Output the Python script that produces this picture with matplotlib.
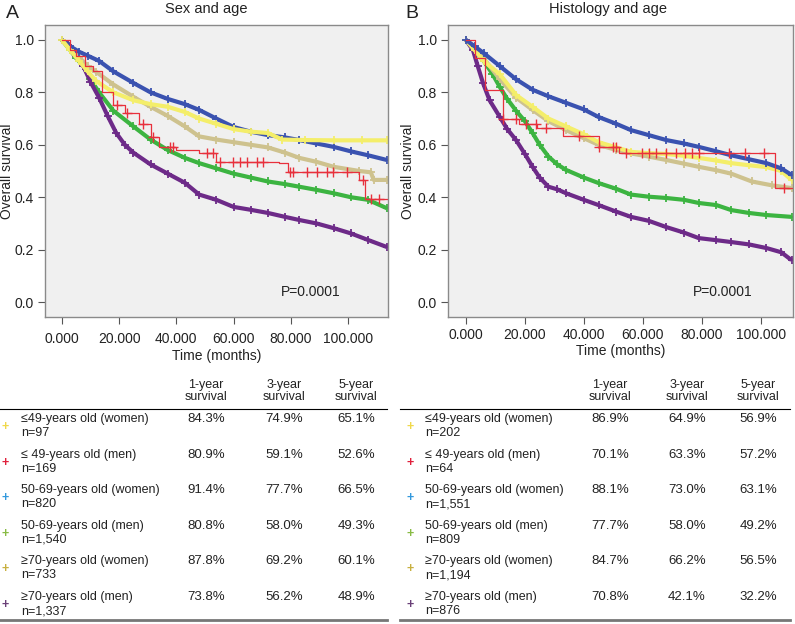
import numpy as np
import matplotlib
matplotlib.use("Agg")
import matplotlib.pyplot as plt

plt.rcParams['font.family'] = ['Liberation Sans', 'DejaVu Sans']

W, H = 795, 624

# ---- panel A: sex and age ----
a_blue_t = [0, 3, 6, 9, 13, 18, 25, 31, 37, 43, 48, 54, 60, 66, 72, 78, 83, 89, 95, 101, 107, 113.6]
a_blue_s = [1.0, 0.975, 0.955, 0.94, 0.92, 0.88, 0.836, 0.80, 0.775, 0.755, 0.733, 0.70, 0.668, 0.65, 0.637, 0.628, 0.618, 0.605, 0.592, 0.575, 0.56, 0.542]
a_yel_t = [0, 3, 6, 9, 12, 18, 25, 31, 37, 43, 48, 54, 60, 66, 72, 77, 85, 95, 105, 113.6]
a_yel_s = [1.0, 0.96, 0.92, 0.88, 0.843, 0.80, 0.77, 0.755, 0.745, 0.725, 0.70, 0.68, 0.66, 0.65, 0.645, 0.62, 0.618, 0.617, 0.617, 0.617]
a_tan_t = [0, 3, 6, 9, 12, 18, 25, 31, 37, 43, 48, 54, 60, 66, 72, 78, 83, 89, 95, 104, 108, 109, 113.6]
a_tan_s = [1.0, 0.97, 0.935, 0.90, 0.878, 0.83, 0.783, 0.745, 0.71, 0.67, 0.632, 0.62, 0.61, 0.60, 0.59, 0.57, 0.55, 0.535, 0.516, 0.50, 0.495, 0.466, 0.466]
a_grn_t = [0, 3, 5, 7.5, 10, 13, 18, 25, 31, 37, 43, 48, 54, 60, 66, 72, 78, 83, 89, 95, 101, 107, 113.6]
a_grn_s = [1.0, 0.96, 0.93, 0.90, 0.85, 0.80, 0.73, 0.67, 0.62, 0.58, 0.55, 0.53, 0.51, 0.49, 0.475, 0.46, 0.45, 0.44, 0.428, 0.415, 0.40, 0.39, 0.358]
a_pur_t = [0, 2, 5, 7.5, 10, 13, 16, 19, 22, 25, 31, 37, 43, 48, 54, 60, 66, 72, 78, 83, 89, 95, 101, 107, 113.6]
a_pur_s = [1.0, 0.98, 0.94, 0.90, 0.84, 0.78, 0.71, 0.645, 0.60, 0.57, 0.525, 0.49, 0.455, 0.41, 0.39, 0.363, 0.352, 0.34, 0.325, 0.313, 0.30, 0.282, 0.262, 0.237, 0.21]
a_red_t = [0, 3, 5, 8, 11, 14, 18, 22, 27, 31, 34, 40, 48, 54, 76, 79, 104, 106, 113.6]
a_red_s = [1.0, 0.96, 0.94, 0.90, 0.88, 0.80, 0.75, 0.72, 0.68, 0.63, 0.59, 0.58, 0.57, 0.535, 0.53, 0.497, 0.466, 0.393, 0.393]
a_red_cens = [19.1, 22.6, 28.4, 31.9, 37.8, 38.9, 50.6, 52.9, 55.2, 59.9, 62.2, 64.6, 68.1, 70.4,
              79.7, 80.9, 85.6, 89.1, 92.6, 94.9, 99.6, 105.4, 108, 111]

# ---- panel B: histology and age ----
b_blue_t = [0, 3, 6, 11.5, 17, 22.6, 28, 34, 40, 45, 51, 56, 62, 68, 74, 79, 85, 90, 96, 102, 107, 110.5]
b_blue_s = [1.0, 0.975, 0.95, 0.90, 0.85, 0.81, 0.785, 0.76, 0.735, 0.706, 0.68, 0.656, 0.637, 0.618, 0.605, 0.592, 0.575, 0.56, 0.545, 0.53, 0.51, 0.485]
b_yel_t = [0, 3, 6, 11.5, 17, 22.6, 28, 34, 40, 45, 51, 56, 62, 68, 74, 79, 85, 90, 96, 102, 107, 110.5]
b_yel_s = [1.0, 0.96, 0.92, 0.869, 0.79, 0.745, 0.70, 0.67, 0.64, 0.61, 0.59, 0.573, 0.568, 0.565, 0.558, 0.55, 0.54, 0.53, 0.522, 0.515, 0.5, 0.466]
b_tan_t = [0, 3, 6, 11.5, 17, 22.6, 28, 34, 40, 45, 51, 56, 62, 68, 74, 79, 85, 90, 97, 104, 110.5]
b_tan_s = [1.0, 0.965, 0.93, 0.85, 0.78, 0.733, 0.69, 0.656, 0.625, 0.60, 0.58, 0.567, 0.555, 0.542, 0.528, 0.516, 0.503, 0.49, 0.46, 0.445, 0.435]
b_grn_t = [0, 3, 6, 9, 11.5, 14, 17, 20, 22.6, 25, 28, 31, 34, 40, 45, 51, 56, 62, 68, 74, 79, 85, 90, 96, 102, 110.5]
b_grn_s = [1.0, 0.96, 0.92, 0.87, 0.82, 0.775, 0.73, 0.69, 0.645, 0.60, 0.555, 0.525, 0.504, 0.475, 0.454, 0.432, 0.41, 0.402, 0.397, 0.39, 0.378, 0.37, 0.351, 0.34, 0.332, 0.325]
b_pur_t = [0, 2.4, 4, 5.8, 8, 11.5, 14, 17, 20, 22.6, 25, 28, 31, 34, 40, 45, 51, 56, 62, 68, 74, 79, 85, 90, 96, 102, 107, 110.5]
b_pur_s = [1.0, 0.96, 0.90, 0.835, 0.77, 0.706, 0.66, 0.618, 0.565, 0.516, 0.475, 0.44, 0.43, 0.415, 0.39, 0.37, 0.345, 0.325, 0.31, 0.286, 0.265, 0.244, 0.236, 0.229, 0.22, 0.206, 0.19, 0.16]
b_red_t = [0, 3, 6.4, 12.5, 18, 24, 33, 45, 52, 105, 110.5]
b_red_s = [1.0, 0.93, 0.81, 0.70, 0.68, 0.665, 0.633, 0.592, 0.57, 0.435, 0.435]
b_red_cens = [12.6, 17.1, 20.5, 23.9, 27.3, 38.5, 45.3, 49.8, 50.9, 54.3, 59.9, 62.2, 64.4, 67.8,
              71.2, 74.5, 76.8, 79.0, 89.2, 94.8, 101.0, 108]

# ---- tables ----
groups = ["\u226449-years old (women)", "\u2264 49-years old (men)", "50-69-years old (women)",
          "50-69-years old (men)", "\u226570-years old (women)", "\u226570-years old (men)"]
a_n = ["97", "169", "820", "1,540", "733", "1,337"]
a_1y = ["84.3%", "80.9%", "91.4%", "80.8%", "87.8%", "73.8%"]
a_3y = ["74.9%", "59.1%", "77.7%", "58.0%", "69.2%", "56.2%"]
a_5y = ["65.1%", "52.6%", "66.5%", "49.3%", "60.1%", "48.9%"]
b_n = ["202", "64", "1,551", "809", "1,194", "876"]
b_1y = ["86.9%", "70.1%", "88.1%", "77.7%", "84.7%", "70.8%"]
b_3y = ["64.9%", "63.3%", "73.0%", "58.0%", "66.2%", "42.1%"]
b_5y = ["56.9%", "57.2%", "63.1%", "49.2%", "56.5%", "32.2%"]

c_yel, c_red, c_blue, c_grn, c_tan, c_pur = '#f4ee6a', '#e8303c', '#3a52b0', '#3cb441', '#cec28e', '#6d2a88'
key_cols = ['#f0d84a', '#e0203c', '#3399dd', '#88bb44', '#c8b040', '#6a4078']
txt_col = '#222222'


def fx(px):
    return px / W


def fy(py):
    return 1 - py / H


def step_at(t, s, x):
    i = np.searchsorted(t, x, side='right') - 1
    return np.asarray(s)[i]


def km_panel(rect, title, letter, curves, red, xlim, letter_x, title_x, xpad):
    ax = fig.add_axes(rect)
    ax.set_facecolor('#f0f0f0')
    for t, s, col in curves:
        ax.plot(t, s, color=col, lw=3.0, marker='+', ms=6, mew=1.3, solid_capstyle='butt')
    rt, rs, rc = red
    ax.plot(rt, rs, color=c_red, lw=0.9, drawstyle='steps-post')
    ax.plot(rc, step_at(rt, rs, rc), ls='none', marker='+', ms=7, mew=1.0, color=c_red)
    ax.set_xlim(*xlim)
    ax.set_ylim(-0.057, 1.057)
    ax.set_xticks([0, 20, 40, 60, 80, 100])
    ax.set_xticklabels(['%.3f' % v for v in [0, 20, 40, 60, 80, 100]])
    ax.set_yticks([0, 0.2, 0.4, 0.6, 0.8, 1.0])
    ax.set_yticklabels(['%.1f' % v for v in [0, 0.2, 0.4, 0.6, 0.8, 1.0]])
    ax.tick_params(labelsize=10, length=5, width=0.8, color='#555555', labelcolor=txt_col)
    ax.tick_params(axis='x', pad=xpad)
    ax.tick_params(axis='y', pad=3)
    for sp in ax.spines.values():
        sp.set_color('#8a8a8a')
        sp.set_linewidth(1.0)
    ax.set_ylabel('Overall survival', fontsize=10, color=txt_col)
    ax.set_xlabel('Time (months)', fontsize=10, color=txt_col)
    ax.text(87, 0.038, 'P=0.0001', fontsize=10, ha='center', va='center', color=txt_col)
    fig.text(fx(title_x), fy(9), title, fontsize=10.5, ha='center', va='center', color=txt_col)
    fig.text(fx(letter_x), fy(14), letter, fontsize=14, ha='center', va='center', color=txt_col)
    return ax


def table(x0, x1, key_x, lab_x, cols, n, v1, v3, v5):
    for cx, lab in zip(cols, ['1-year', '3-year', '5-year']):
        fig.text(fx(cx), fy(385), lab, fontsize=9, ha='center', va='center', color=txt_col)
        fig.text(fx(cx), fy(397), 'survival', fontsize=9, ha='center', va='center', color=txt_col)
    fig.add_artist(plt.Line2D([fx(x0), fx(x1)], [fy(409), fy(409)], color='black', lw=0.8))
    fig.add_artist(plt.Line2D([fx(x0), fx(x1)], [fy(620), fy(620)], color='#777777', lw=2.0))
    for i in range(6):
        y = 419 + i * 35.6
        fig.text(fx(key_x), fy(y + 8), '+', fontsize=9, fontweight='bold', color=key_cols[i],
                 ha='center', va='center')
        fig.text(fx(lab_x), fy(y), groups[i], fontsize=9, va='center', color=txt_col)
        fig.text(fx(lab_x), fy(y + 14), 'n=' + n[i], fontsize=9, va='center', color=txt_col)
        for cx, v in zip(cols, [v1[i], v3[i], v5[i]]):
            fig.text(fx(cx), fy(y), v, fontsize=9.5, ha='center', va='center', color=txt_col)


fig = plt.figure(figsize=(W / 100, H / 100), dpi=100)

ax1 = km_panel([fx(45), fy(317), (388 - 45) / W, (317 - 25) / H], 'Sex and age', 'A',
               [(a_grn_t, a_grn_s, c_grn), (a_pur_t, a_pur_s, c_pur), (a_tan_t, a_tan_s, c_tan),
                (a_blue_t, a_blue_s, c_blue), (a_yel_t, a_yel_s, c_yel)],
               (a_red_t, a_red_s, a_red_cens), (-5.9, 114), 12, 206, 6)
ax1.yaxis.set_label_coords(-0.09, 0.5)
ax1.xaxis.set_label_coords(0.5, -0.108)

ax2 = km_panel([fx(448), fy(317), (793 - 448) / W, (317 - 25) / H], 'Histology and age', 'B',
               [(b_grn_t, b_grn_s, c_grn), (b_pur_t, b_pur_s, c_pur), (b_tan_t, b_tan_s, c_tan),
                (b_yel_t, b_yel_s, c_yel), (b_blue_t, b_blue_s, c_blue)],
               (b_red_t, b_red_s, b_red_cens), (-6.1, 111), 412, 608, 3)
ax2.yaxis.set_label_coords(-0.096, 0.5)
ax2.xaxis.set_label_coords(0.5, -0.092)

table(0, 387, 5, 21, [206, 284, 356], a_n, a_1y, a_3y, a_5y)
table(400, 790, 410, 425, [610, 687, 758], b_n, b_1y, b_3y, b_5y)

fig.savefig('out.png', dpi=100)
